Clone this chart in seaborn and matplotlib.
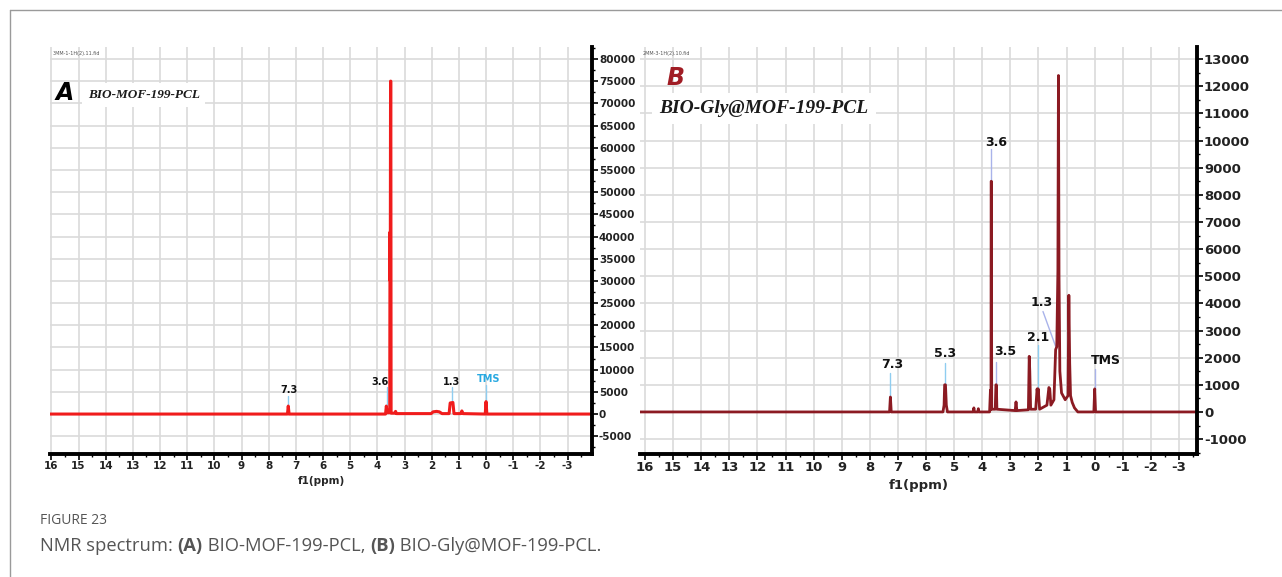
import numpy as np
import pandas as pd
import matplotlib
matplotlib.use("Agg")
import matplotlib.pyplot as plt
import seaborn as sns
from matplotlib.ticker import FixedLocator, MultipleLocator

# ---------------- data ----------------
# Panel A trace: BIO-MOF-199-PCL
ppm_A = [16.1, 7.31, 7.28, 7.25, 3.70, 3.67, 3.64, 3.56, 3.545, 3.535, 3.525, 3.515,
         3.505, 3.495, 3.36, 3.33, 3.30, 2.02, 1.95, 1.82, 1.72, 1.62, 1.36, 1.32,
         1.22, 1.18, 0.93, 0.89, 0.85, 0.03, 0.0, -0.03, -3.9]
int_A = [0, 0, 1800, 0, 0, 1800, 300, 300, 500, 41000, 30000, 75000,
         75000, 200, 200, 600, 100, 100, 500, 600, 500, 100, 100, 2500,
         2600, 100, 100, 700, 100, 0, 2800, 0, 0]

# Panel B trace: BIO-Gly@MOF-199-PCL
ppm_B = [16.2, 7.30, 7.27, 7.24, 5.40, 5.36, 5.34, 5.31, 5.28, 5.24, 4.32, 4.30, 4.28,
         4.16, 4.14, 4.12, 3.74, 3.71, 3.69, 3.685, 3.675, 3.665, 3.54, 3.515, 3.50, 3.48,
         2.83, 2.80, 2.77, 2.36, 2.33, 2.31, 2.28, 2.10, 2.05, 2.03, 2.01, 1.96,
         1.70, 1.63, 1.60, 1.56, 1.45, 1.39, 1.35, 1.31, 1.29, 1.27, 1.24, 1.18,
         1.05, 0.95, 0.92, 0.89, 0.86, 0.80, 0.72, 0.60, 0.03, 0.0, -0.03, -3.7]
int_B = [0, 0, 550, 0, 0, 250, 1000, 1000, 250, 0, 0, 150, 0,
         0, 120, 0, 0, 800, 100, 8500, 8500, 100, 100, 1000, 1000, 100,
         50, 370, 50, 80, 2050, 1500, 100, 100, 850, 650, 850, 100,
         250, 900, 850, 250, 450, 2300, 2400, 5200, 12400, 5000, 1500, 700,
         450, 600, 4300, 1800, 600, 350, 150, 0, 0, 850, 0, 0]

# Peak annotations
lab_A_text = ["7.3", "3.6", "1.3", "TMS"]
lab_A_ppm = [7.28, 3.66, 1.25, 0.0]
lab_A_y0 = [1800, 1800, 2600, 2800]
lab_A_y1 = [4000, 6000, 6000, 6600]
lab_A_tx = [7.25, 3.92, 1.28, -0.1]
lab_A_ty = [4200, 6100, 6100, 6700]
lab_A_col = ["#111111", "#111111", "#111111", "#29a9e1"]

lab_B_text = ["7.3", "5.3", "3.6", "3.5", "2.1", "TMS", "1.3"]
lab_B_ppm = [7.27, 5.33, 3.68, 3.51, 2.03, 0.0]
lab_B_y0 = [550, 1000, 8500, 1000, 850, 850]
lab_B_y1 = [1450, 1800, 9700, 1850, 2450, 1600]
lab_B_tx = [7.2, 5.33, 3.5, 3.18, 2.0, -0.4, 1.9]
lab_B_ty = [1500, 1900, 9700, 2000, 2500, 1650, 3800]
# slanted leader for the 1.3 label
lead13_ppm = [1.84, 1.36]
lead13_int = [3700, 2330]

x_ticks = list(range(16, -4, -1))
yA_ticks = list(range(-5000, 80001, 5000))
yB_ticks = list(range(-1000, 13001, 1000))

# ---------------- style ----------------
sns.set_style("white")
plt.rcParams["font.family"] = ["DejaVu Sans"]

W, H = 1282, 577
fig = plt.figure(figsize=(W / 100, H / 100), dpi=100)


def fx(px):
    return px / W


def fy(py):
    return 1 - py / H


# outer frame (top and left edges)
fig.add_artist(plt.Line2D([fx(10), 1.0], [fy(10), fy(10)], transform=fig.transFigure,
                          color="#9a9a9a", lw=1.0))
fig.add_artist(plt.Line2D([fx(10), fx(10)], [fy(10), 0], transform=fig.transFigure,
                          color="#9a9a9a", lw=1.0))

axA = fig.add_axes([fx(50), fy(454), fx(592 - 50), (454 - 47) / H])
axB = fig.add_axes([fx(640), fy(454), fx(1197 - 640), (454 - 47) / H])


def style_axis(ax, xlim, ylim, yticks, ymajor, fs_tick, fs_lab):
    ax.set_xlim(*xlim)
    ax.set_ylim(*ylim)
    ax.xaxis.set_major_locator(FixedLocator(x_ticks))
    ax.set_xticklabels([str(t) for t in x_ticks], fontweight="bold", fontsize=fs_tick)
    ax.xaxis.set_minor_locator(MultipleLocator(0.5))
    ax.yaxis.tick_right()
    ax.yaxis.set_major_locator(FixedLocator(yticks))
    ax.set_yticklabels([str(t) for t in yticks], fontweight="bold", fontsize=fs_tick)
    ax.yaxis.set_minor_locator(MultipleLocator(ymajor / 2))
    ax.grid(True, which="major", color="#dadada", lw=1.2)
    ax.set_axisbelow(True)
    for s in ["left", "top"]:
        ax.spines[s].set_visible(False)
    for s in ["right", "bottom"]:
        ax.spines[s].set_linewidth(2.8)
        ax.spines[s].set_color("black")
    ax.tick_params(axis="both", which="major", direction="out", length=4, width=1.2,
                   pad=1, colors="black", labelcolor="#222222")
    ax.tick_params(axis="both", which="minor", direction="out", length=2.5, width=1.0,
                   colors="black")
    ax.tick_params(axis="x", which="both", bottom=True, top=False)
    ax.tick_params(axis="y", which="both", left=False, right=True)
    ax.set_xlabel("f1(ppm)", fontweight="bold", fontsize=fs_lab, labelpad=4)
    ax.set_ylabel("")


# ---------------- panel A ----------------
dfA = pd.DataFrame({"ppm": ppm_A, "intensity": int_A})
sns.lineplot(data=dfA, x="ppm", y="intensity", sort=False, estimator=None,
             color="#f01c1c", lw=2.2, ax=axA)
style_axis(axA, (16.05, -3.9), (-9000, 82700), yA_ticks, 5000, 7.5, 7.5)
for t, p, y0, y1, tx, ty, c in zip(lab_A_text, lab_A_ppm, lab_A_y0, lab_A_y1,
                                   lab_A_tx, lab_A_ty, lab_A_col):
    axA.plot([p, p], [y0, y1], color="#8fcdf0", lw=1.0, zorder=1)
    axA.text(tx, ty, t, ha="center", va="bottom", fontsize=7, fontweight="bold", color=c)

axA.text(0.005, 0.99, "3MM-1-1H(2).11.fid", transform=axA.transAxes, fontsize=3.5,
         color="#555555", va="top", ha="left")
axA.text(0.070, 0.882, "BIO-MOF-199-PCL", transform=axA.transAxes, fontsize=9.5,
         fontweight="bold", style="italic", family="Liberation Serif", color="#1a1a1a",
         va="center", ha="left", bbox=dict(fc="white", ec="none", pad=4))
axA.text(0.010, 0.887, "A", transform=axA.transAxes, fontsize=17, fontweight="bold",
         style="italic", color="black", va="center", ha="left")

# ---------------- panel B ----------------
dfB = pd.DataFrame({"ppm": ppm_B, "intensity": int_B})
sns.lineplot(data=dfB, x="ppm", y="intensity", sort=False, estimator=None,
             color="#8b1a22", lw=2.0, ax=axB)
style_axis(axB, (16.18, -3.64), (-1550, 13450), yB_ticks, 1000, 9.5, 9.5)
for t, p, y0, y1 in zip(lab_B_text, lab_B_ppm, lab_B_y0, lab_B_y1):
    col = "#a9b3ea" if t in ("3.6", "3.5", "TMS") else "#8fcdf0"
    axB.plot([p, p], [y0, y1], color=col, lw=1.0, zorder=1)
for t, tx, ty in zip(lab_B_text, lab_B_tx, lab_B_ty):
    axB.text(tx, ty, t, ha="center", va="bottom", fontsize=9, fontweight="bold",
             color="#111111")
axB.plot(lead13_ppm, lead13_int, color="#a9b3ea", lw=1.0, zorder=1)

axB.text(0.005, 0.99, "2MM-3-1H(2).10.fid", transform=axB.transAxes, fontsize=3.5,
         color="#555555", va="top", ha="left")
axB.text(0.048, 0.924, "B", transform=axB.transAxes, fontsize=17, fontweight="bold",
         style="italic", color="#a01c24", va="center", ha="left")
axB.text(0.035, 0.85, "BIO-Gly@MOF-199-PCL", transform=axB.transAxes, fontsize=14,
         fontweight="bold", style="italic", family="Liberation Serif", color="#1a1a1a",
         va="center", ha="left", bbox=dict(fc="white", ec="none", pad=5))

# ---------------- caption ----------------
fig.text(fx(40), fy(521), "FIGURE 23", fontsize=10, color="#555555", family="Open Sans",
         va="center", ha="left")

renderer = fig.canvas.get_renderer()
parts = [("NMR spectrum: ", "normal"), ("(A)", "bold"), (" BIO-MOF-199-PCL, ", "normal"),
         ("(B)", "bold"), (" BIO-Gly@MOF-199-PCL.", "normal")]
x0 = 40
for txt, wt in parts:
    t = fig.text(fx(x0), fy(546), txt, fontsize=13.2, color="#555555", family="Open Sans",
                 fontweight=wt, va="center", ha="left")
    bb = t.get_window_extent(renderer=renderer)
    x0 += bb.width

fig.savefig("out.png", dpi=100)
